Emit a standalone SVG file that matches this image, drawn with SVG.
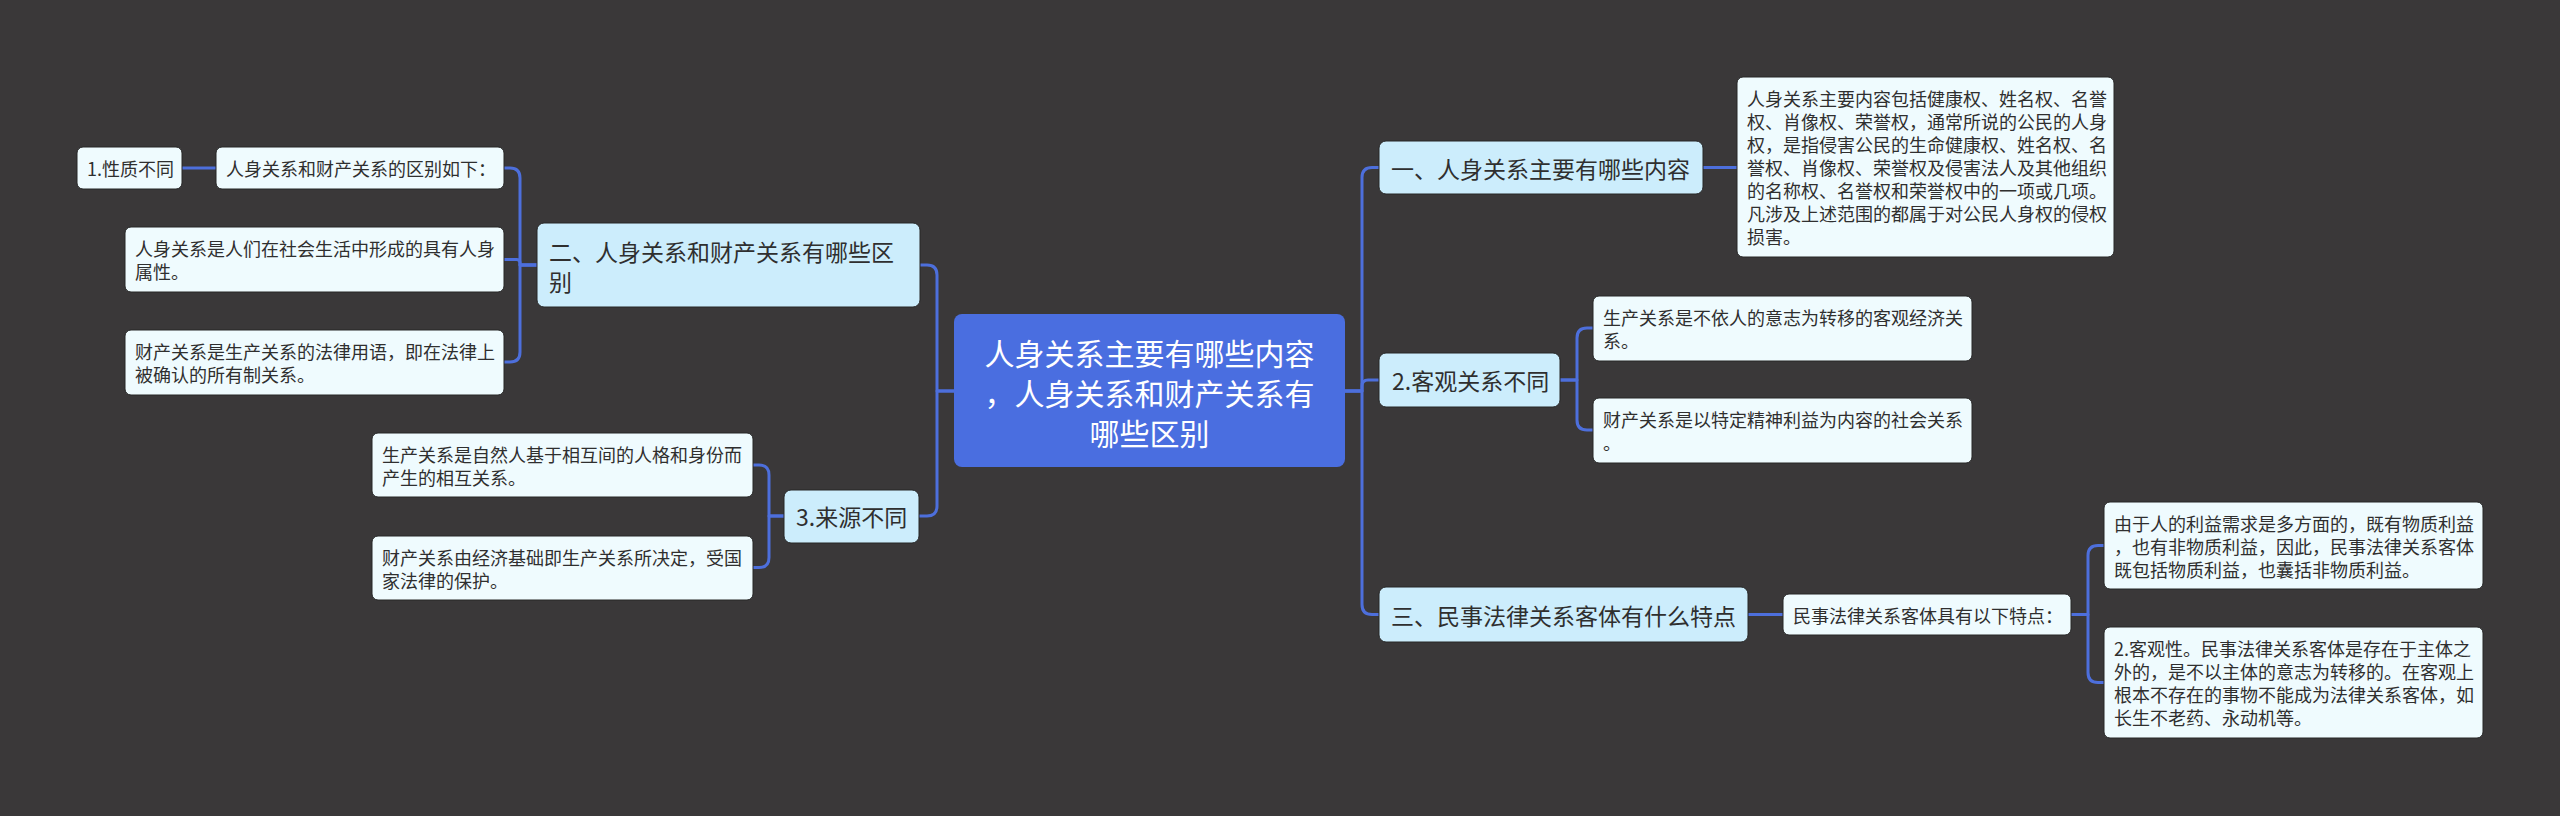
<svg xmlns="http://www.w3.org/2000/svg" width="2560" height="816" viewBox="0 0 2560 816">
<style>
text{font-family:"Noto Sans CJK SC","Noto Sans",sans-serif;dominant-baseline:central;fill:#2f2f2f}
.leaf{fill:#effbfe;stroke:#262626;stroke-width:1}
.l1{fill:#ccedfc;stroke:#262626;stroke-width:1}
.root{fill:#4a6ee0}
.s{font-size:18px}
.m{font-size:23px}
.n{font-size:23px}
.r{font-size:30px;fill:#ffffff;text-anchor:middle}
.c{fill:none;stroke:#4d6fdc;stroke-width:3;stroke-linecap:round;stroke-linejoin:round}
</style>
<rect x="0" y="0" width="2560" height="816" fill="#3a3839"/>
<g id="connectors">
<path class="c" d="M1345,391 H1362 V177.5 Q1362,167.5 1372,167.5 H1379"/>
<path class="c" d="M1345,391 H1362 V386 Q1362,380 1368,380 H1379"/>
<path class="c" d="M1345,391 H1362 V604.5 Q1362,614.5 1372,614.5 H1379"/>
<path class="c" d="M1703,167.5 H1737"/>
<path class="c" d="M1560,380 H1577 V338 Q1577,328 1587,328 H1593"/>
<path class="c" d="M1560,380 H1577 V420 Q1577,430 1587,430 H1593"/>
<path class="c" d="M1748,614.5 H1783"/>
<path class="c" d="M2071,614.5 H2088 V555.5 Q2088,545.5 2098,545.5 H2104"/>
<path class="c" d="M2071,614.5 H2088 V672.5 Q2088,682.5 2098,682.5 H2104"/>
<path class="c" d="M954,391 H937 V275 Q937,265 927,265 H920"/>
<path class="c" d="M954,391 H937 V506 Q937,516 927,516 H919"/>
<path class="c" d="M537,265 H520 V178 Q520,168 510,168 H504"/>
<path class="c" d="M537,265 H520 V263 Q520,259.5 516.5,259.5 H504"/>
<path class="c" d="M537,265 H520 V352 Q520,362 510,362 H504"/>
<path class="c" d="M784,516 H769 V475 Q769,465 759,465 H753"/>
<path class="c" d="M784,516 H769 V557.5 Q769,567.5 759,567.5 H753"/>
<path class="c" d="M182,168 H216"/>
</g>
<g id="root">
<rect class="root" x="954" y="314" width="391" height="153" rx="8"/>
<text class="r"><tspan x="1149.5" y="352">人身关系主要有哪些内容</tspan><tspan x="1149.5" y="392">，人身关系和财产关系有</tspan><tspan x="1149.5" y="432">哪些区别</tspan></text>
</g>
<g id="n-er">
<rect class="l1" x="537" y="223" width="383" height="84" rx="7"/>
<text class="m"><tspan x="549" y="251">二、人身关系和财产关系有哪些区</tspan><tspan x="549" y="281">别</tspan></text>
</g>
<g id="n-xingzhi">
<rect class="leaf" x="77" y="147" width="105" height="42" rx="6"/>
<text class="s" x="87" y="168">1.性质不同</text>
</g>
<g id="n-qubie">
<rect class="leaf" x="216" y="147" width="288" height="42" rx="6"/>
<text class="s" x="226" y="168">人身关系和财产关系的区别如下：</text>
</g>
<g id="n-renshen">
<rect class="leaf" x="125" y="227" width="379" height="65" rx="6"/>
<text class="s"><tspan x="135" y="248">人身关系是人们在社会生活中形成的具有人身</tspan><tspan x="135" y="271">属性。</tspan></text>
</g>
<g id="n-caichan">
<rect class="leaf" x="125" y="330" width="379" height="65" rx="6"/>
<text class="s"><tspan x="135" y="351">财产关系是生产关系的法律用语，即在法律上</tspan><tspan x="135" y="374">被确认的所有制关系。</tspan></text>
</g>
<g id="n-laiyuan">
<rect class="l1" x="784" y="490" width="135" height="53" rx="7"/>
<text class="n" x="796" y="516">3.来源不同</text>
</g>
<g id="n-laiyuan-1">
<rect class="leaf" x="372" y="433" width="381" height="64" rx="6"/>
<text class="s"><tspan x="382" y="454">生产关系是自然人基于相互间的人格和身份而</tspan><tspan x="382" y="477">产生的相互关系。</tspan></text>
</g>
<g id="n-laiyuan-2">
<rect class="leaf" x="372" y="536" width="381" height="64" rx="6"/>
<text class="s"><tspan x="382" y="557">财产关系由经济基础即生产关系所决定，受国</tspan><tspan x="382" y="580">家法律的保护。</tspan></text>
</g>
<g id="n-yi">
<rect class="l1" x="1379" y="141" width="324" height="53" rx="7"/>
<text class="m" x="1391" y="167.5">一、人身关系主要有哪些内容</text>
</g>
<g id="n-yi-1">
<rect class="leaf" x="1737" y="77" width="377" height="180" rx="6"/>
<text class="s"><tspan x="1747" y="98">人身关系主要内容包括健康权、姓名权、名誉</tspan><tspan x="1747" y="121">权、肖像权、荣誉权，通常所说的公民的人身</tspan><tspan x="1747" y="144">权，是指侵害公民的生命健康权、姓名权、名</tspan><tspan x="1747" y="167">誉权、肖像权、荣誉权及侵害法人及其他组织</tspan><tspan x="1747" y="190">的名称权、名誉权和荣誉权中的一项或几项。</tspan><tspan x="1747" y="213">凡涉及上述范围的都属于对公民人身权的侵权</tspan><tspan x="1747" y="236">损害。</tspan></text>
</g>
<g id="n-keguan">
<rect class="l1" x="1379" y="353" width="181" height="54" rx="7"/>
<text class="n" x="1392" y="380">2.客观关系不同</text>
</g>
<g id="n-keguan-1">
<rect class="leaf" x="1593" y="296" width="379" height="65" rx="6"/>
<text class="s"><tspan x="1603" y="317">生产关系是不依人的意志为转移的客观经济关</tspan><tspan x="1603" y="340">系。</tspan></text>
</g>
<g id="n-keguan-2">
<rect class="leaf" x="1593" y="398" width="379" height="65" rx="6"/>
<text class="s"><tspan x="1603" y="419">财产关系是以特定精神利益为内容的社会关系</tspan><tspan x="1603" y="442">。</tspan></text>
</g>
<g id="n-san">
<rect class="l1" x="1379" y="587" width="369" height="55" rx="7"/>
<text class="m" x="1391" y="614.5">三、民事法律关系客体有什么特点</text>
</g>
<g id="n-tedian">
<rect class="leaf" x="1783" y="594" width="288" height="41" rx="6"/>
<text class="s" x="1793" y="614.5">民事法律关系客体具有以下特点：</text>
</g>
<g id="n-tedian-1">
<rect class="leaf" x="2104" y="502" width="379" height="87" rx="6"/>
<text class="s"><tspan x="2114" y="523">由于人的利益需求是多方面的，既有物质利益</tspan><tspan x="2114" y="546">，也有非物质利益，因此，民事法律关系客体</tspan><tspan x="2114" y="569">既包括物质利益，也囊括非物质利益。</tspan></text>
</g>
<g id="n-tedian-2">
<rect class="leaf" x="2104" y="627" width="379" height="111" rx="6"/>
<text class="s"><tspan x="2114" y="648">2.客观性。民事法律关系客体是存在于主体之</tspan><tspan x="2114" y="671">外的，是不以主体的意志为转移的。在客观上</tspan><tspan x="2114" y="694">根本不存在的事物不能成为法律关系客体，如</tspan><tspan x="2114" y="717">长生不老药、永动机等。</tspan></text>
</g>
</svg>
